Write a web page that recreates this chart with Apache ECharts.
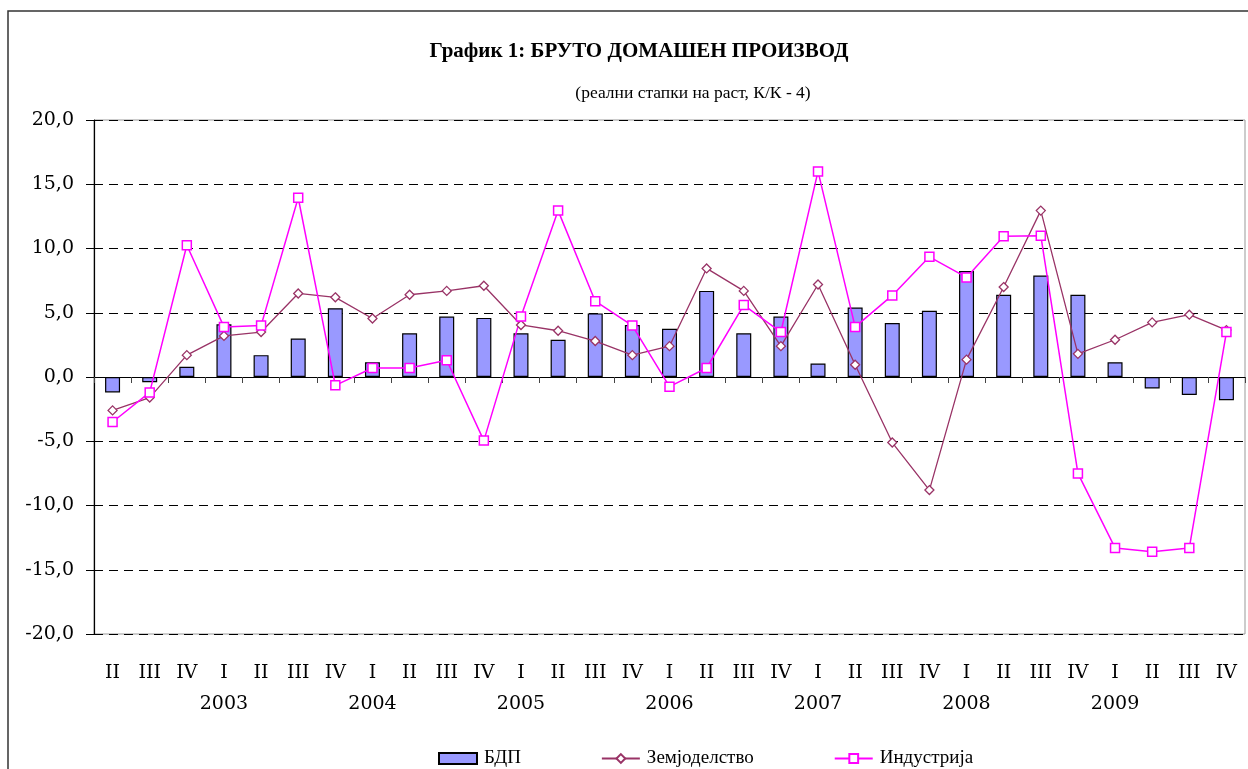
<!DOCTYPE html>
<html>
<head>
<meta charset="utf-8">
<script src="https://cdn.jsdelivr.net/npm/echarts@6/dist/echarts.min.js"></script>
<style>
html,body{margin:0;padding:0;background:#fff;}
#chart{width:1248px;height:769px;}
</style>
</head>
<body>
<div id="chart"></div>
<script>
var quarters = ['II','III','IV','I','II','III','IV','I','II','III','IV','I','II','III','IV','I','II','III','IV','I','II','III','IV','I','II','III','IV','I','II','III','IV'];
var years = ['2003','2004','2005','2006','2007','2008','2009'];
var gdp = [-1.2,-0.4,0.8,4.1,1.7,3.0,5.35,1.15,3.4,4.7,4.6,3.4,2.9,4.95,4.05,3.75,6.7,3.4,4.7,1.05,5.4,4.2,5.15,8.25,6.4,7.9,6.4,1.15,-0.9,-1.4,-1.8];
var agriculture = [-2.6,-1.6,1.7,3.2,3.5,6.5,6.2,4.55,6.4,6.7,7.1,4.05,3.6,2.8,1.7,2.4,8.45,6.7,2.4,7.2,0.95,-5.1,-8.8,1.35,7.0,12.95,1.8,2.9,4.25,4.85,3.65];
var industry = [-3.5,-1.2,10.25,3.9,4.0,13.95,-0.65,0.7,0.7,1.3,-4.95,4.7,12.95,5.9,4.0,-0.75,0.7,5.6,3.5,16.0,3.9,6.35,9.35,7.75,10.95,11.0,-7.5,-13.3,-13.6,-13.3,3.5];
var seriesNames = ['БДП','Земјоделство','Индустрија'];
var titleText = 'График 1: БРУТО ДОМАШЕН ПРОИЗВОД';
var subtitleText = '(реални стапки на раст, К/К - 4)';

var FONT = 'Liberation Serif';
var AXFONT = 'DejaVu Serif';
var chart = echarts.init(document.getElementById('chart'));
chart.setOption({
  backgroundColor: '#fff',
  animation: false,
  title: [
    {text: titleText, left: 634, top: 36, textAlign: 'center',
     textStyle: {fontFamily: FONT, fontWeight: 'bold', fontSize: 21, color: '#000'}},
    {text: subtitleText, left: 688, top: 79, textAlign: 'center',
     textStyle: {fontFamily: FONT, fontWeight: 'normal', fontSize: 17.5, color: '#000'}}
  ],
  graphic: [
    {type: 'rect', shape: {x: 8, y: 11, width: 1300, height: 800},
     style: {fill: 'none', stroke: '#333', lineWidth: 1.5}, silent: true}
  ],
  legend: {
    left: 433, top: 744,
    itemWidth: 38, itemHeight: 11, itemGap: 80,
    textStyle: {fontFamily: FONT, fontSize: 19, color: '#000', padding: [0, 0, 0, 2]},
    data: [
      {name: seriesNames[0], icon: 'rect'},
      {name: seriesNames[1]},
      {name: seriesNames[2]}
    ]
  },
  grid: {left: 94, right: 3, top: 120, bottom: 135, show: true, borderColor: '#999', borderWidth: 1},
  xAxis: [
    {type: 'category', data: quarters, boundaryGap: true, position: 'bottom',
     axisLine: {onZero: true, lineStyle: {color: '#000', width: 1.2}},
     axisTick: {show: true, length: 6, inside: false, lineStyle: {color: '#444'}},
     axisLabel: {show: false}, splitLine: {show: false}},
    {type: 'category', data: quarters, boundaryGap: true, position: 'bottom',
     axisLine: {show: false, onZero: false}, axisTick: {show: false},
     axisLabel: {
       interval: 0, margin: 24,
       formatter: function (v, i) {
         var y = (i % 4 === 3) ? years[(i - 3) / 4] : '';
         return '{q|' + v + '}\n{y|' + (y || ' ') + '}';
       },
       rich: {
         q: {fontFamily: AXFONT, fontSize: 19, color: '#000', lineHeight: 31},
         y: {fontFamily: AXFONT, fontSize: 19, color: '#000', lineHeight: 31}
       }
     }}
  ],
  yAxis: {
    type: 'value', min: -20, max: 20, interval: 5,
    axisLine: {show: true, lineStyle: {color: '#000', width: 1.2}},
    axisTick: {show: true, length: 8, inside: false, lineStyle: {color: '#000'}},
    axisLabel: {fontFamily: AXFONT, fontSize: 19, color: '#000', margin: 20,
      formatter: function (v) { return v.toFixed(1).replace('.', ','); }},
    splitLine: {show: true, lineStyle: {color: '#000', type: [9, 6], width: 1}}
  },
  series: [
    {name: seriesNames[0], type: 'bar', data: gdp, barWidth: 15, xAxisIndex: 0,
     itemStyle: {color: '#9999FF', borderColor: '#000', borderWidth: 1.2}},
    {name: seriesNames[1], type: 'line', data: agriculture, xAxisIndex: 0,
     symbol: 'diamond', symbolSize: 9, showAllSymbol: true,
     lineStyle: {color: '#993366', width: 1.3},
     itemStyle: {color: '#fff', borderColor: '#993366', borderWidth: 1.3}},
    {name: seriesNames[2], type: 'line', data: industry, xAxisIndex: 0,
     symbol: 'rect', symbolSize: 9, showAllSymbol: true,
     lineStyle: {color: '#FF00FF', width: 1.5},
     itemStyle: {color: '#fff', borderColor: '#FF00FF', borderWidth: 1.5}}
  ]
});
</script>
</body>
</html>
